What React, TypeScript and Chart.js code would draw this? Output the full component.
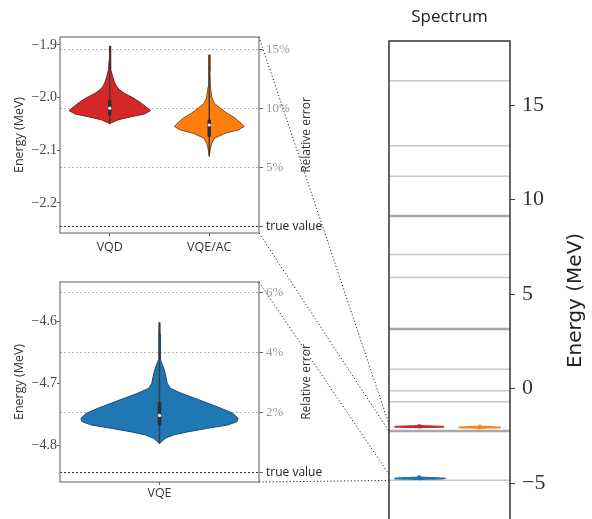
import React, { useEffect, useRef } from 'react';
import { Chart, registerables } from 'chart.js';
Chart.register(...registerables);

// ---------------- data ----------------
const topCategories = ['VQD', 'VQE/AC'];
const bottomCategories = ['VQE'];

const topTrueValue = -2.245;
const bottomTrueValue = -4.844;
const topErrorLevels = [15, 10, 5];
const bottomErrorLevels = [6, 4, 2];
const topEnergyTicks = [-1.9, -2.0, -2.1, -2.2];
const bottomEnergyTicks = [-4.6, -4.7, -4.8];
const topRange = [-2.257, -1.885];
const bottomRange = [-4.86, -4.5356];

// violin profiles: energy (MeV) and half width (category units)
const vqdEnergy = [-1.902, -1.9285, -1.947, -1.96, -1.97, -1.979, -1.9855, -1.992, -2.001, -2.011, -2.02, -2.0247, -2.031, -2.037, -2.0424, -2.0475, -2.05];
const vqdHalfWidth = [0.003, 0.006, 0.012, 0.03, 0.045, 0.07, 0.1, 0.15, 0.24, 0.32, 0.38, 0.41, 0.35, 0.2, 0.08, 0.02, 0];
const vqdBox = [-2.049, -2.034, -2.02, -2.005, -1.902]; // min, q1, median, q3, max

const vqeAcEnergy = [-1.919, -1.95, -1.98, -2.001, -2.011, -2.02, -2.0297, -2.039, -2.0487, -2.055, -2.0614, -2.0677, -2.077, -2.0866, -2.096, -2.112];
const vqeAcHalfWidth = [0.003, 0.007, 0.012, 0.027, 0.053, 0.11, 0.18, 0.26, 0.32, 0.35, 0.29, 0.16, 0.053, 0.025, 0.012, 0];
const vqeAcBox = [-2.11, -2.074, -2.052, -2.042, -1.919];

const vqeEnergy = [-4.601, -4.62, -4.64, -4.662, -4.6675, -4.678, -4.689, -4.7, -4.708, -4.716, -4.724, -4.732, -4.7405, -4.7486, -4.7567, -4.762, -4.7676, -4.773, -4.7784, -4.7838, -4.789, -4.7946, -4.798];
const vqeHalfWidth = [0.002, 0.003, 0.004, 0.005, 0.012, 0.024, 0.032, 0.039, 0.054, 0.109, 0.176, 0.241, 0.31, 0.368, 0.395, 0.39, 0.342, 0.241, 0.146, 0.07, 0.03, 0.01, 0];
const vqeBox = [-4.797, -4.768, -4.752, -4.73, -4.601];

const spectrumLevels = [16.29, 12.85, 11.24, 9.13, 7.1, 5.88, 3.15, 1.02, -0.12, -0.7, -2.246, -4.844];
const spectrumMultiplicity = [1, 1, 1, 2, 1, 1, 2, 1, 1, 1, 2, 1];
const spectrumTicks = [15, 10, 5, 0, -5];
const spectrumRange = [-9.07, 18.39];

const RED = '#d62728';
const ORANGE = '#ff7f0e';
const BLUE = '#1f77b4';

// ---------------- helpers ----------------
const fmtMinus = (v: number, digits: number) => (v < 0 ? '\u2212' : '') + Math.abs(v).toFixed(digits);

function violinPolygon(center: number, energies: number[], hws: number[]) {
  const right = energies.map((e, i) => ({ x: center + hws[i], y: e }));
  const left = energies.map((e, i) => ({ x: center - hws[i], y: e })).reverse();
  return [...right, ...left, right[0]];
}

function violinDatasets(center: number, energies: number[], hws: number[], box: number[], fill: string, edge: string, small: boolean) {
  const common = { showLine: true, pointRadius: 0, pointHoverRadius: 0, tension: 0 };
  return [
    { ...common, data: violinPolygon(center, energies, hws), fill: 'shape', backgroundColor: fill, borderColor: edge, borderWidth: small ? 1.8 : 1, order: 5 },
    { ...common, data: [{ x: center, y: box[0] }, { x: center, y: box[4] }], borderColor: small ? edge : '#3a3a3a', borderWidth: small ? 1.2 : 1.4, fill: false, order: 2 },
    { ...common, data: [{ x: center, y: box[1] }, { x: center, y: box[3] }], borderColor: small ? edge : '#2e2e2e', borderWidth: small ? 2 : 3.5, fill: false, order: 1 },
    { showLine: false, data: [{ x: center, y: box[2] }], pointRadius: small ? 0 : 1.6, pointBackgroundColor: '#f4f4f4', pointBorderWidth: 0, order: 0 },
  ];
}

type SideTitle = { text: string; side: 'left' | 'right'; offset: number; font: string; color: string };
function decor(frameColor: string, frameWidth: number, titles: SideTitle[], top?: { text: string; y: number; font: string; color: string }) {
  return {
    id: 'decor',
    afterDraw(chart: any) {
      const { ctx, chartArea: a } = chart;
      ctx.save();
      ctx.strokeStyle = frameColor;
      ctx.lineWidth = frameWidth;
      ctx.strokeRect(a.left, a.top, a.right - a.left, a.bottom - a.top);
      for (const t of titles) {
        ctx.save();
        ctx.translate(t.side === 'left' ? a.left - t.offset : a.right + t.offset, (a.top + a.bottom) / 2);
        ctx.rotate(-Math.PI / 2);
        ctx.font = t.font;
        ctx.fillStyle = t.color;
        ctx.textAlign = 'center';
        ctx.textBaseline = 'middle';
        ctx.fillText(t.text, 0, 0);
        ctx.restore();
      }
      if (top) {
        ctx.font = top.font;
        ctx.fillStyle = top.color;
        ctx.textAlign = 'center';
        ctx.textBaseline = 'middle';
        ctx.fillText(top.text, (a.left + a.right) / 2, top.y);
      }
      ctx.restore();
    },
  };
}

const SERIF = '"Liberation Serif", "DejaVu Serif", serif';
const SANS = '"Open Sans", "DejaVu Sans", sans-serif';

const fixV = (w: number) => (s: any) => { s.width = w; s.paddingTop = 0; s.paddingBottom = 0; };
const fixH = (h: number) => (s: any) => { s.height = h; s.paddingLeft = 0; s.paddingRight = 0; };

function panelConfig(
  categories: string[],
  datasets: any[],
  xRange: number[],
  yRange: number[],
  energyTicks: number[],
  trueValue: number,
  errorLevels: number[],
  padTop: number,
  xHeight: number,
  xPad: number,
) {
  const errValues = [...errorLevels.map((p) => trueValue * (1 - p / 100)), trueValue];
  const errLabels = [...errorLevels.map((p) => `${p}%`), 'true value'];
  const lastIdx = errValues.length - 1;
  return {
    type: 'scatter',
    data: { datasets },
    options: {
      animation: false,
      responsive: false,
      events: [],
      layout: { padding: { top: padTop, left: 0, right: 0, bottom: 0 } },
      plugins: { legend: { display: false }, tooltip: { enabled: false } },
      scales: {
        x: {
          type: 'linear',
          min: xRange[0],
          max: xRange[1],
          afterBuildTicks: (s: any) => { s.ticks = categories.map((_, i) => ({ value: i + 1 })); },
          afterFit: fixH(xHeight),
          ticks: { callback: (_v: any, i: number) => categories[i], font: { family: SANS, size: 12.5 }, color: '#333', padding: xPad, autoSkip: false, maxRotation: 0 },
          grid: { drawOnChartArea: false, tickLength: 3, tickColor: '#666' },
          border: { display: false },
        },
        y: {
          type: 'linear',
          min: yRange[0],
          max: yRange[1],
          afterBuildTicks: (s: any) => { s.ticks = energyTicks.map((v) => ({ value: v })); },
          afterFit: fixV(60),
          ticks: { callback: (v: number) => fmtMinus(v, 1), font: { family: SERIF, size: 14 }, color: '#444', padding: 0, autoSkip: false },
          grid: { drawOnChartArea: false, tickLength: 3, tickColor: '#666' },
          border: { display: false },
        },
        y2: {
          type: 'linear',
          axis: 'y',
          position: 'right',
          min: yRange[0],
          max: yRange[1],
          afterBuildTicks: (s: any) => { s.ticks = errValues.map((v) => ({ value: v })); },
          afterFit: fixV(71),
          ticks: {
            callback: (_v: any, i: number) => errLabels[i],
            font: (c: any) => (c.index === lastIdx ? { family: SANS, size: 12 } : { family: SERIF, size: 13 }),
            color: (c: any) => (c.index === lastIdx ? '#222' : '#9a9a9a'),
            padding: 3,
            autoSkip: false,
          },
          grid: {
            drawOnChartArea: true,
            color: (c: any) => (c.index === lastIdx ? '#333' : '#b5b5b5'),
            lineWidth: 1,
            tickLength: 4,
            tickColor: '#666',
          },
          border: { display: false, dash: [2, 2] },
        },
      },
    },
  };
}

const TOP_POS = { left: 0, top: 0, width: 330, height: 255 };
const BOT_POS = { left: 0, top: 260, width: 330, height: 259 };
const SPEC_POS = { left: 380, top: 0, width: 212, height: 560 };

export default function App() {
  const topRef = useRef<HTMLCanvasElement>(null);
  const botRef = useRef<HTMLCanvasElement>(null);
  const specRef = useRef<HTMLCanvasElement>(null);
  const ovRef = useRef<HTMLCanvasElement>(null);

  useEffect(() => {
    const sideTitles = (left: string, right: string): SideTitle[] => [
      { text: left, side: 'left', offset: 41, font: `12.5px ${SANS}`, color: '#333' },
      { text: right, side: 'right', offset: 48, font: `12px ${SANS}`, color: '#333' },
    ];

    const topCfg: any = panelConfig(
      topCategories,
      [
        ...violinDatasets(1, vqdEnergy, vqdHalfWidth, vqdBox, RED, '#7a1f1f', false),
        ...violinDatasets(2, vqeAcEnergy, vqeAcHalfWidth, vqeAcBox, ORANGE, '#8a4a12', false),
      ],
      [0.5, 2.5], topRange, topEnergyTicks, topTrueValue, topErrorLevels, 37, 22, 4,
    );
    topCfg.plugins = [decor('#777', 1.2, sideTitles('Energy (MeV)', 'Relative error'))];
    const top = new Chart(topRef.current as any, topCfg);

    const botCfg: any = panelConfig(
      bottomCategories,
      [...violinDatasets(1, vqeEnergy, vqeHalfWidth, vqeBox, BLUE, '#1a4a72', false)],
      [0.5, 1.5], bottomRange, bottomEnergyTicks, bottomTrueValue, bottomErrorLevels, 22, 37, 1,
    );
    botCfg.plugins = [decor('#777', 1.2, sideTitles('Energy (MeV)', 'Relative error'))];
    const bot = new Chart(botRef.current as any, botCfg);

    const levelSets = spectrumLevels.map((e, i) => ({
      showLine: true,
      pointRadius: 0,
      data: [{ x: 0.5, y: e }, { x: 2.5, y: e }],
      borderColor: spectrumMultiplicity[i] > 1 ? '#a9a9a9' : '#c8c8c8',
      borderWidth: spectrumMultiplicity[i] > 1 ? 2.5 : 1.5,
      fill: false,
      order: 10,
    }));
    const spec = new Chart(specRef.current as any, {
      type: 'scatter',
      data: {
        datasets: [
          ...levelSets,
          ...violinDatasets(1, vqdEnergy, vqdHalfWidth, vqdBox, RED, '#c22a2f', true),
          ...violinDatasets(2, vqeAcEnergy, vqeAcHalfWidth, vqeAcBox, ORANGE, '#f08a1c', true),
          ...violinDatasets(1, vqeEnergy, vqeHalfWidth, vqeBox, BLUE, '#2270a8', true),
        ] as any,
      },
      options: {
        animation: false,
        responsive: false,
        events: [],
        layout: { padding: { top: 41, left: 9, right: 0, bottom: 0 } },
        plugins: { legend: { display: false }, tooltip: { enabled: false } },
        scales: {
          x: { type: 'linear', min: 0.5, max: 2.5, display: false },
          y: {
            type: 'linear',
            position: 'right',
            min: spectrumRange[0],
            max: spectrumRange[1],
            afterBuildTicks: (s: any) => { s.ticks = spectrumTicks.map((v) => ({ value: v })); },
            afterFit: fixV(82),
            ticks: { callback: (v: number) => fmtMinus(v, 0), font: { family: SERIF, size: 22 }, color: '#333', padding: 7, autoSkip: false },
            grid: { drawOnChartArea: false, tickLength: 5, tickColor: '#444' },
            border: { display: false },
          },
        },
      } as any,
      plugins: [
        decor('#333', 1.5, [{ text: 'Energy (MeV)', side: 'right', offset: 66, font: `20px "DejaVu Sans", sans-serif`, color: '#222' }], {
          text: 'Spectrum', y: 17, font: `17px ${SANS}`, color: '#222',
        }) as any,
      ],
    });

    // zoom connector lines
    const ov = ovRef.current!.getContext('2d')!;
    ov.clearRect(0, 0, 592, 519);
    ov.save();
    ov.setLineDash([1.2, 2.2]);
    ov.strokeStyle = '#222';
    ov.lineWidth = 1;
    const sx = SPEC_POS.left + spec.chartArea.left;
    const sy = (v: number) => SPEC_POS.top + spec.scales.y.getPixelForValue(v);
    const seg = (x1: number, y1: number, x2: number, y2: number) => {
      ov.beginPath();
      ov.moveTo(x1, y1);
      ov.lineTo(x2, y2);
      ov.stroke();
    };
    const ta = top.chartArea;
    seg(TOP_POS.left + ta.right, TOP_POS.top + top.scales.y.getPixelForValue(topRange[1]), sx, sy(topRange[1]));
    seg(TOP_POS.left + ta.right, TOP_POS.top + top.scales.y.getPixelForValue(topRange[0]), sx, sy(topRange[0]));
    seg(BOT_POS.left + bot.chartArea.right, BOT_POS.top + bot.scales.y.getPixelForValue(bottomRange[1]), sx, sy(bottomRange[1]));
    seg(BOT_POS.left + bot.chartArea.right, BOT_POS.top + bot.scales.y.getPixelForValue(bottomRange[0]), sx, sy(bottomRange[0]));
    ov.restore();

    return () => {
      top.destroy();
      bot.destroy();
      spec.destroy();
    };
  }, []);

  const abs = (p: { left: number; top: number; width: number; height: number }): React.CSSProperties => ({
    position: 'absolute', left: p.left, top: p.top, width: p.width, height: p.height, display: 'block',
  });

  return (
    <div style={{ position: 'fixed', left: 0, top: 0, width: 592, height: 519, overflow: 'hidden', background: '#fff' }}>
      <canvas ref={topRef} width={TOP_POS.width} height={TOP_POS.height} style={abs(TOP_POS)} />
      <canvas ref={botRef} width={BOT_POS.width} height={BOT_POS.height} style={abs(BOT_POS)} />
      <canvas ref={specRef} width={SPEC_POS.width} height={SPEC_POS.height} style={abs(SPEC_POS)} />
      <canvas ref={ovRef} width={592} height={519} style={{ ...abs({ left: 0, top: 0, width: 592, height: 519 }), pointerEvents: 'none' }} />
    </div>
  );
}
